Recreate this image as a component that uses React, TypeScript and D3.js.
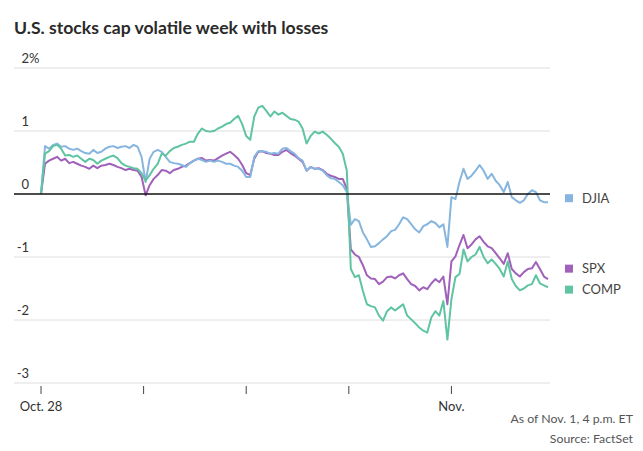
import React from 'react';
import * as d3 from 'd3';

// chart text
const title = 'U.S. stocks cap volatile week with losses';
const noteLines = ['As of Nov. 1, 4 p.m. ET', 'Source: FactSet'];

// x axis: one tick per trading day, placed on the intraday index
const dayLabels = ['Oct. 28', '', '', '', 'Nov.'];
const dayTickIndex = [0, 25.5, 51, 76.5, 102];

// y axis ticks (percent change)
const yTicks = [2, 1, 0, -1, -2, -3];

// intraday % change (~15 min steps)
const djia = [
  0, 0.76, 0.72, 0.78, 0.8, 0.75, 0.76, 0.72, 0.7, 0.72, 0.68, 0.65, 0.64, 0.7, 0.65, 0.67,
  0.72, 0.75, 0.76, 0.73, 0.75, 0.76, 0.73, 0.78, 0.75, 0.59, 0.19, 0.56, 0.67, 0.7, 0.67,
  0.59, 0.51, 0.49, 0.48, 0.46, 0.43, 0.49, 0.53, 0.56, 0.54, 0.51, 0.53, 0.51, 0.53, 0.51,
  0.48, 0.48, 0.45, 0.43, 0.37, 0.27, 0.27, 0.59, 0.68, 0.68, 0.67, 0.64, 0.65, 0.64, 0.72,
  0.73, 0.68, 0.64, 0.57, 0.53, 0.37, 0.43, 0.4, 0.4, 0.37, 0.3, 0.25, 0.24, 0.19, 0.14,
  0.03, -0.49, -0.4, -0.43, -0.61, -0.72, -0.84, -0.83, -0.78, -0.72, -0.67, -0.59, -0.57,
  -0.48, -0.37, -0.4, -0.48, -0.56, -0.61, -0.51, -0.48, -0.43, -0.46, -0.53, -0.48, -0.84,
  -0.05, -0.08, 0.19, 0.4, 0.24, 0.29, 0.37, 0.46, 0.37, 0.24, 0.32, 0.21, 0.14, 0.03, 0.19,
  -0.05, -0.1, -0.14, -0.1, 0, 0.06, 0.03, -0.1, -0.13, -0.13,
];

const spx = [
  0, 0.48, 0.53, 0.56, 0.59, 0.53, 0.56, 0.49, 0.51, 0.48, 0.45, 0.43, 0.4, 0.45, 0.41, 0.45,
  0.46, 0.48, 0.46, 0.43, 0.41, 0.38, 0.4, 0.38, 0.37, 0.27, -0.02, 0.14, 0.24, 0.3, 0.38,
  0.37, 0.33, 0.38, 0.4, 0.43, 0.45, 0.49, 0.53, 0.56, 0.57, 0.53, 0.54, 0.53, 0.57, 0.61,
  0.64, 0.67, 0.62, 0.56, 0.46, 0.33, 0.3, 0.56, 0.67, 0.68, 0.65, 0.64, 0.62, 0.62, 0.67,
  0.7, 0.65, 0.61, 0.56, 0.51, 0.37, 0.43, 0.4, 0.41, 0.38, 0.32, 0.29, 0.27, 0.24, 0.24,
  0.08, -0.88, -0.96, -1.0, -1.13, -1.29, -1.34, -1.35, -1.43, -1.39, -1.32, -1.31, -1.34,
  -1.29, -1.26, -1.35, -1.43, -1.46, -1.53, -1.48, -1.51, -1.42, -1.35, -1.4, -1.31, -1.75,
  -1.07, -0.99, -0.81, -0.65, -0.86, -0.8, -0.72, -0.67, -0.76, -0.83, -0.86, -0.94, -1.02,
  -1.11, -0.94, -1.19, -1.26, -1.31, -1.24, -1.19, -1.18, -1.08, -1.19, -1.31, -1.35,
];

const comp = [
  0, 0.64, 0.68, 0.76, 0.78, 0.72, 0.61, 0.62, 0.59, 0.61, 0.56, 0.51, 0.56, 0.54, 0.48, 0.53,
  0.56, 0.59, 0.61, 0.57, 0.49, 0.45, 0.43, 0.41, 0.4, 0.33, 0.21, 0.3, 0.4, 0.48, 0.64,
  0.61, 0.68, 0.73, 0.75, 0.78, 0.8, 0.83, 0.83, 0.96, 1.04, 1.0, 0.99, 1.0, 1.04, 1.07,
  1.11, 1.13, 1.19, 1.24, 1.11, 0.92, 0.86, 1.23, 1.37, 1.4, 1.32, 1.23, 1.31, 1.26, 1.29,
  1.24, 1.19, 1.18, 1.15, 1.04, 0.8, 0.92, 0.99, 0.96, 0.99, 0.94, 0.88, 0.81, 0.75, 0.64,
  0.37, -1.19, -1.32, -1.29, -1.54, -1.75, -1.78, -1.8, -1.93, -2.01, -1.86, -1.8, -1.85,
  -1.8, -1.75, -1.93, -1.99, -2.05, -2.12, -2.17, -2.2, -1.96, -1.86, -1.93, -1.7, -2.31,
  -1.67, -1.32, -1.27, -0.88, -1.07, -1.0, -0.96, -0.84, -1.0, -1.1, -1.04, -1.11, -1.19,
  -1.31, -1.07, -1.35, -1.46, -1.53, -1.5, -1.45, -1.43, -1.29, -1.42, -1.45, -1.48,
];

const seriesNames = ['SPX', 'DJIA', 'COMP'];
const seriesValues = [spx, djia, comp];
const seriesColors = ['#a061ba', '#86b6df', '#5fc4a2'];

const W = 643;
const H = 451;
const FONT = 'Lato, "Open Sans", sans-serif';

export default function App() {
  const x = d3.scaleLinear().domain([0, djia.length - 1]).range([41, 548]);
  const y = d3.scaleLinear().domain([-3, 2]).range([383, 68]);
  const gridX0 = 14;
  const gridX1 = 550;

  const line = d3
    .line<number>()
    .x((_, i) => x(i))
    .y((d) => y(d))
    .curve(d3.curveLinear);

  // legend labels next to line ends, nudged apart so they don't overlap
  const legend = seriesNames.map((name, i) => {
    const vals = seriesValues[i];
    return { name, color: seriesColors[i], ly: y(vals[vals.length - 1]) - 4 };
  });
  const sorted = [...legend].sort((a, b) => a.ly - b.ly);
  const gap = 21;
  for (let iter = 0; iter < 20; iter++) {
    for (let i = 1; i < sorted.length; i++) {
      const d = sorted[i].ly - sorted[i - 1].ly;
      if (d < gap) {
        const shift = (gap - d) / 2;
        sorted[i - 1].ly -= shift;
        sorted[i].ly += shift;
      }
    }
  }

  return (
    <svg
      width={W}
      height={H}
      style={{ position: 'absolute', left: 0, top: 0, background: '#fff' }}
      fontFamily={FONT}
    >
      <text x={14} y={34} fontSize={17.6} fontWeight={700} fill="#2a2a2a">
        {title}
      </text>

      {/* gridlines + y labels */}
      {yTicks.map((t) => (
        <g key={t}>
          {t !== 0 && (
            <line x1={gridX0} x2={gridX1} y1={y(t)} y2={y(t)} stroke="#dedede" strokeWidth={1} />
          )}
          <text x={29} y={y(t) - 5} textAnchor="end" fontSize={13} fill="#333">
            {t}
          </text>
          {t === 2 && (
            <text x={29} y={y(t) - 5} fontSize={13} fill="#333">
              %
            </text>
          )}
        </g>
      ))}

      {/* x ticks */}
      {dayTickIndex.map((d, i) => (
        <g key={i}>
          <line x1={x(d)} x2={x(d)} y1={386} y2={394} stroke="#444" strokeWidth={1} />
          {dayLabels[i] && (
            <text x={x(d)} y={411} textAnchor="middle" fontSize={13} fill="#333">
              {dayLabels[i]}
            </text>
          )}
        </g>
      ))}

      {/* series */}
      {seriesValues.map((vals, i) => (
        <path
          key={seriesNames[i]}
          d={line(vals) ?? ''}
          fill="none"
          stroke={seriesColors[i]}
          strokeWidth={2}
          strokeLinejoin="round"
        />
      ))}

      {/* zero line */}
      <line x1={gridX0} x2={gridX1} y1={y(0)} y2={y(0)} stroke="#111" strokeWidth={1.5} />

      {/* legend */}
      {legend.map((l) => (
        <g key={l.name}>
          <rect x={565} y={l.ly - 4} width={8} height={8} fill={l.color} />
          <text x={582} y={l.ly + 4.5} fontSize={13} fill="#444">
            {l.name}
          </text>
        </g>
      ))}

      {/* notes */}
      {noteLines.map((s, i) => (
        <text key={s} x={633} y={423 + i * 20} textAnchor="end" fontSize={12.3} fill="#555">
          {s}
        </text>
      ))}
    </svg>
  );
}
